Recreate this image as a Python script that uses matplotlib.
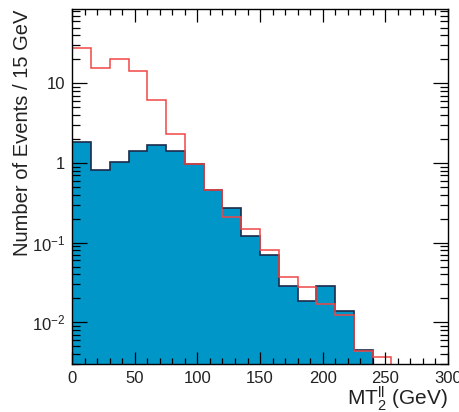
import numpy as np
import matplotlib.pyplot as plt
from matplotlib.ticker import FixedLocator, FixedFormatter, MultipleLocator, LogLocator, NullFormatter

plt.rcParams["font.family"] = ["Liberation Sans", "DejaVu Sans"]
plt.rcParams["mathtext.fontset"] = "custom"
plt.rcParams["mathtext.rm"] = "Liberation Sans"
plt.rcParams["mathtext.it"] = "Liberation Sans:italic"

# 15 GeV bins, 0-300 GeV
edges = np.arange(0, 301, 15)
bkg = [1.83, 0.81, 1.02, 1.40, 1.68, 1.41, 0.96, 0.46, 0.273, 0.121,
       0.0697, 0.0289, 0.0183, 0.0282, 0.0137, 0.00455, 0, 0, 0, 0]
sig = [27.5, 15.4, 20.0, 14.3, 6.2, 2.28, 0.96, 0.46, 0.207, 0.148,
       0.082, 0.037, 0.0275, 0.017, 0.0125, 0.0044, 0.00365, 0, 0, 0]

ytick_vals = [0.01, 0.1, 1, 10]
ytick_labels = ["$10^{-2}$", "$10^{-1}$", "1", "10"]

def trim(vals):
    vals = np.array(vals, dtype=float)
    n = np.nonzero(vals)[0].max() + 1
    return vals[:n], edges[:n + 1]

fig = plt.figure(figsize=(4.59, 4.12), dpi=100)
ax = fig.add_axes([0.1575, 0.1165, 0.818, 0.861])
ax.set_yscale("log")

b, be = trim(bkg)
ax.stairs(b, be, baseline=1e-4, fill=True, facecolor="#0096c8", edgecolor="none")
ax.stairs(b, be, baseline=1e-4, color="#1c2b4a", lw=1.2)
s, se = trim(sig)
ax.stairs(s, se, baseline=1e-4, color="#f04646", lw=1.1)

ax.set_xlim(0, 300)
ax.set_ylim(3.0e-3, 85)

ax.xaxis.set_major_locator(MultipleLocator(50))
ax.xaxis.set_minor_locator(MultipleLocator(10))
ax.yaxis.set_major_locator(FixedLocator(ytick_vals))
ax.yaxis.set_major_formatter(FixedFormatter(ytick_labels))
ax.yaxis.set_minor_locator(LogLocator(base=10, subs=np.arange(2, 10)))
ax.yaxis.set_minor_formatter(NullFormatter())

ax.tick_params(which="both", direction="in", top=True, right=True,
               labelsize=12, width=0.9, labelcolor="#222222")
ax.tick_params(axis="x", which="major", length=9, pad=5)
ax.tick_params(axis="x", which="minor", length=4.5)
ax.tick_params(axis="y", which="major", length=11, pad=5)
ax.tick_params(axis="y", which="minor", length=5.5)
for sp in ax.spines.values():
    sp.set_linewidth(1.0)

ax.set_xlabel(r"MT$_{2}^{\mathrm{ll}}$ (GeV)", fontsize=15, loc="right",
              labelpad=-1, color="#222222")
ax.set_ylabel("Number of Events / 15 GeV", fontsize=14.5, loc="top",
              color="#222222")
ax.yaxis.set_label_coords(-0.107, 1.0)

fig.savefig("out.png", dpi=100)
